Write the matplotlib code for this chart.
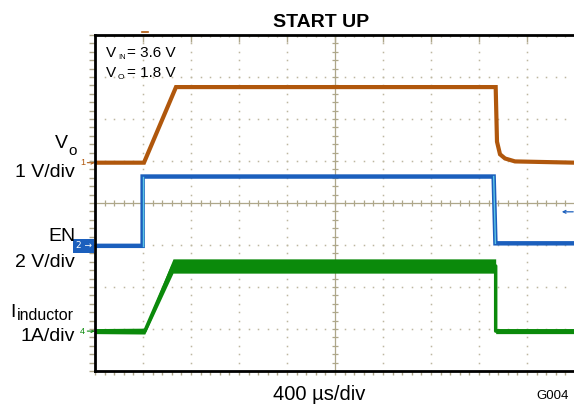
import matplotlib
matplotlib.use("Agg")
import matplotlib.pyplot as plt
import numpy as np

plt.rcParams['font.family'] = ['Liberation Sans', 'DejaVu Sans']

# time base: 400 us/div, 10 divisions
t_div = 400
n_xdiv = 10
trig_t = 400

# Vo, 1 V/div, ground marker at +0.96 div
vo_t = [0, 408, 675, 3339, 3350, 3375, 3417, 3500, 4000]
vo_v = [0, 0, 1.8, 1.8, 0.5, 0.2, 0.1, 0.03, 0]
vo_pos, vo_scale = 0.96, 1.0

# EN, 2 V/div, ground marker at -1.02 div
en_t = [0, 397, 397, 3322, 3337, 4000]
en_v = [0, 0, 3.3, 3.3, 0.12, 0.12]
en_pos, en_scale = -1.02, 2.0

# inductor current, 1 A/div, ground marker at -3.05 div
il_t = [0, 415, 650, 3339, 3339, 4000]
il_v = [0, 0, 1.55, 1.55, 0, 0]
il_spread = [0.06, 0.07, 0.17, 0.17, 0.06, 0.06]
il_pos, il_scale = -3.05, 1.0

trig_level = -0.21

c_vo = '#b0570c'
c_en = '#1b5fbd'
c_edge = '#5cc6e6'
c_il = '#0b8a0b'
c_tick = '#aea78a'
c_dot = '#bdb7a0'

W, H = 574, 407
def px(x, y):
    return x / W, 1 - y / H

fig = plt.figure(figsize=(W / 100, H / 100), dpi=100)
ax = fig.add_axes([95 / W, (H - 371) / H, 480 / W, 336 / H])
ax.set_xlim(0, t_div * n_xdiv)
ax.set_ylim(-4, 4)
ax.set_xticks([])
ax.set_yticks([])
ax.spines['right'].set_visible(False)
for s in ('left', 'top', 'bottom'):
    ax.spines[s].set_linewidth(2.0)
    ax.spines[s].set_color('black')
    ax.spines[s].set_zorder(6)

# dotted graticule
xmaj = np.arange(0, t_div * n_xdiv + 1, t_div)
xmin = np.arange(0, t_div * n_xdiv + 1, t_div / 5)
ymaj = np.arange(-4, 5, 1)
ymin = np.arange(-4, 4.01, 0.2)
for x in xmaj[1:-1]:
    if x != 2000:
        ax.plot(np.full_like(ymin, x), ymin, ls='none', marker='s', ms=1.1, mew=0, color=c_dot, zorder=1)
for y in ymaj[1:-1]:
    if y != 0:
        ax.plot(xmin, np.full_like(xmin, y), ls='none', marker='s', ms=1.1, mew=0, color=c_dot, zorder=1)

# center crosshair with ticks
ax.axhline(0, color=c_tick, lw=0.9, zorder=1)
ax.axvline(2000, color=c_tick, lw=0.9, zorder=1)
ax.plot(xmin, np.zeros_like(xmin), ls='none', marker='|', ms=5, mew=0.9, color=c_tick, zorder=1)
ax.plot(np.full_like(ymin, 2000), ymin, ls='none', marker='_', ms=5, mew=0.9, color=c_tick, zorder=1)

# edge ticks
ax.plot(xmaj, np.full_like(xmaj, 4.0), ls='none', marker=3, ms=5, mew=1, color=c_tick, clip_on=False, zorder=5)
ax.plot(xmin, np.full_like(xmin, 4.0), ls='none', marker=3, ms=1.5, mew=1, color=c_tick, clip_on=False, zorder=5)
ax.plot(xmin, np.full_like(xmin, -4.0), ls='none', marker=3, ms=3, mew=1, color=c_tick, clip_on=False, zorder=5)
ax.plot(np.zeros_like(ymin), ymin, ls='none', marker=0, ms=4, mew=1, color=c_tick, clip_on=False, zorder=5)
ax.plot(np.full_like(ymin, 4000), ymin, ls='none', marker=1, ms=3, mew=1, color=c_tick, clip_on=False, zorder=5)

# traces
vo_y = vo_pos + np.array(vo_v) / vo_scale
en_y = en_pos + np.array(en_v) / en_scale
il_y = il_pos + np.array(il_v) / il_scale
il_s = np.array(il_spread) / il_scale

ax.plot(vo_t, vo_y, color=c_vo, lw=3.0, solid_joinstyle='miter', zorder=3)
ax.plot(en_t, en_y, color=c_en, lw=3.2, solid_joinstyle='miter', zorder=3)
ax.plot(en_t[1:3], en_y[1:3], color=c_edge, lw=1.0, zorder=4)
ax.plot(en_t[3:5], en_y[3:5], color=c_edge, lw=1.0, zorder=4)
ax.fill_between(il_t, il_y - il_s, il_y + il_s, color=c_il, lw=0, zorder=3)
ax.plot(il_t, il_y, color=c_il, lw=2.5, zorder=3)

# channel ground markers
for lab, pos, col in (('1', vo_pos, c_vo), ('4', il_pos, c_il)):
    ax.annotate('', xy=(0, pos), xytext=(-5.5, 0), textcoords='offset points',
                arrowprops=dict(arrowstyle='->', color=col, lw=0.8, shrinkA=0, shrinkB=0,
                                mutation_scale=5), annotation_clip=False)
    ax.annotate(lab, xy=(0, pos), xytext=(-7, 0), textcoords='offset points',
                ha='right', va='center', fontsize=6.5, color=col, annotation_clip=False)
ax.annotate('2 \u2192', xy=(0, en_pos), xytext=(-2.5, 0), textcoords='offset points',
            ha='right', va='center', fontsize=6.5, color='white', annotation_clip=False,
            family=['DejaVu Sans'],
            bbox=dict(boxstyle='square,pad=0.3', fc=c_en, ec='none'), zorder=7)

# trigger markers
ax.annotate('', xy=(3890, trig_level), xytext=(3985, trig_level),
            arrowprops=dict(arrowstyle='->', color=c_en, lw=0.9, shrinkA=0, shrinkB=0,
                            mutation_scale=5), annotation_clip=False)
ax.plot([trig_t - 10, trig_t + 40], [4.06, 4.06], color=c_vo, lw=1.2, clip_on=False, zorder=7)

# labels
fig.text(*px(321, 27), 'START UP', ha='center', va='baseline', fontsize=14, fontweight='bold')
fig.text(*px(319, 400), '400 \u00b5s/div', ha='center', va='baseline', fontsize=14.5)
fig.text(*px(569, 399), 'G004', ha='right', va='baseline', fontsize=9.5)

fig.text(*px(106, 57), 'V', ha='left', va='baseline', fontsize=11)
fig.text(*px(118, 59), 'IN', ha='left', va='baseline', fontsize=5.5)
fig.text(*px(127, 57), '= 3.6 V', ha='left', va='baseline', fontsize=11)
fig.text(*px(106, 77), 'V', ha='left', va='baseline', fontsize=11)
fig.text(*px(118, 79), 'O', ha='left', va='baseline', fontsize=6)
fig.text(*px(127, 77), '= 1.8 V', ha='left', va='baseline', fontsize=11)

fig.text(*px(68, 148), 'V', ha='right', va='baseline', fontsize=14)
fig.text(*px(68, 155), 'o', ha='left', va='baseline', fontsize=11)
fig.text(*px(75, 177), '1 V/div', ha='right', va='baseline', fontsize=14)
fig.text(*px(75, 241), 'EN', ha='right', va='baseline', fontsize=14)
fig.text(*px(75, 267), '2 V/div', ha='right', va='baseline', fontsize=14)
fig.text(*px(16, 317), 'I', ha='right', va='baseline', fontsize=14)
fig.text(*px(17, 320), 'inductor', ha='left', va='baseline', fontsize=11.5)
fig.text(*px(75, 341), '1A/div', ha='right', va='baseline', fontsize=14)

fig.savefig('out.png', dpi=100)
